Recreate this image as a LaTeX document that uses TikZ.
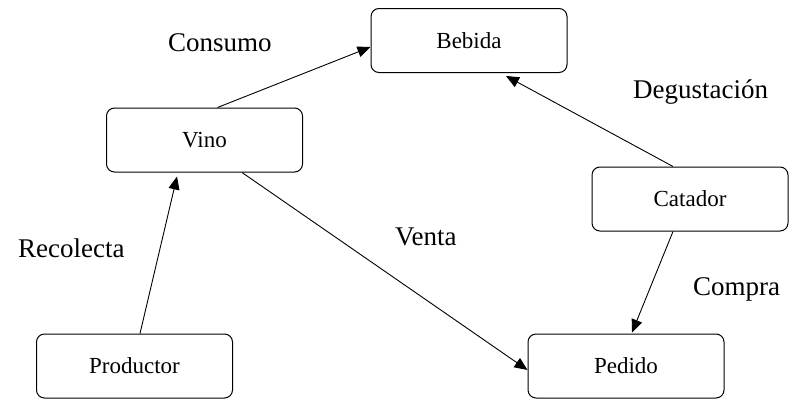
\documentclass[tikz,border=0pt]{standalone}
\usepackage{fontspec}
\setmainfont{Liberation Serif}
\usetikzlibrary{arrows.meta}
\begin{document}
\begin{tikzpicture}[x=1pt,y=-1pt,
  entity/.style={draw, line width=1pt, rounded corners=8pt,
    minimum width=196pt, minimum height=64pt, inner sep=0pt,
    font=\fontsize{23}{27}\selectfont},
  relation/.style={anchor=base west, inner sep=0pt,
    font=\fontsize{27}{31}\selectfont},
  link/.style={line width=0.9pt, -{Triangle[length=13pt,width=11pt]}}]
  \useasboundingbox (0,0) rectangle (792,399);

  % entities
  \node[entity] (bebida)    at (469,40.5) {Bebida};
  \node[entity] (vino)      at (204.5,140) {Vino};
  \node[entity] (productor) at (134.5,366) {Productor};
  \node[entity] (catador)   at (690,199) {Catador};
  \node[entity] (pedido)    at (626,366) {Pedido};

  % relations
  \node[relation] (consumo)     at (168,51)  {Consumo};
  \node[relation] (degustacion) at (633,98)  {Degustación};
  \node[relation] (recolecta)   at (18,257)  {Recolecta};
  \node[relation] (venta)       at (395,245) {Venta};
  \node[relation] (compra)      at (693,295) {Compra};

  % connectors
  \draw[link] ([xshift=13pt]vino.north) -- ([yshift=-6.5pt]bebida.west);
  \draw[link] ([xshift=-17pt]catador.north) -- ([xshift=37pt,yshift=-3pt]bebida.south);
  \draw[link] ([xshift=5.5pt]productor.north) -- ([xshift=-27.5pt,yshift=-4pt]vino.south);
  \draw[link] ([xshift=37.5pt]vino.south) -- ([yshift=-4pt]pedido.west);
  \draw[link] ([xshift=-17pt]catador.south) -- ([xshift=6pt,yshift=1pt]pedido.north);
\end{tikzpicture}
\end{document}
